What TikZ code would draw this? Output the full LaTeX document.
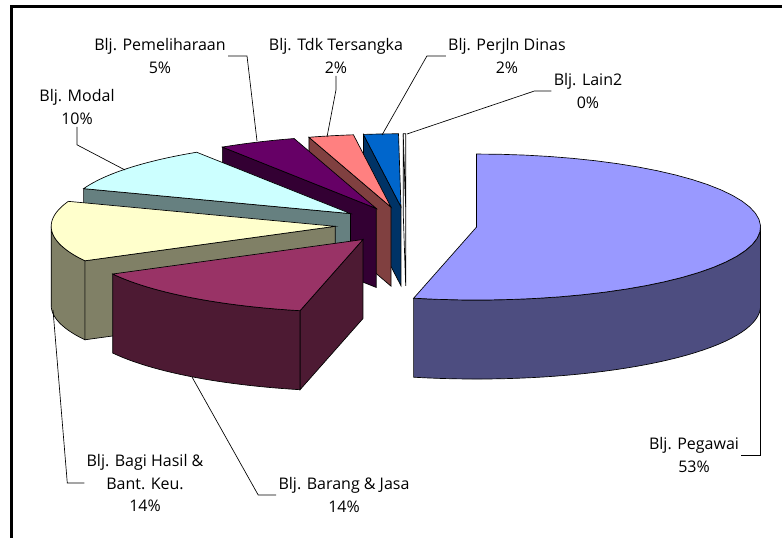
\documentclass[tikz,border=0pt]{standalone}
\usepackage{fontspec}
\setmainfont{Open Sans}
\definecolor{pegawai}{HTML}{9999FF}
\definecolor{pegawaiside}{HTML}{4D4D80}
\definecolor{barang}{HTML}{993366}
\definecolor{barangside}{HTML}{4D1A33}
\definecolor{bagihasil}{HTML}{FFFFCC}
\definecolor{bagihasilside}{HTML}{808066}
\definecolor{modal}{HTML}{CCFFFF}
\definecolor{modalside}{HTML}{668080}
\definecolor{pemeliharaan}{HTML}{660066}
\definecolor{pemeliharaanside}{HTML}{330033}
\definecolor{tersangka}{HTML}{FF8080}
\definecolor{tersangkaside}{HTML}{804040}
\definecolor{perjalanan}{HTML}{0066CC}
\definecolor{perjalananside}{HTML}{003366}
\begin{document}
\begin{tikzpicture}[x=0.75pt,y=-0.75pt,line width=0.5pt,
    lbl/.style={align=center,font=\fontsize{12}{17}\selectfont,inner sep=1.5pt}]
            \useasboundingbox (0,0) rectangle (782,538);
            \def\rx{284}
            \def\ry{73}
            \def\pieh{79}
            \def\cx{406}
            \def\cy{225}
            \def\expl{0.25}
            \def\slice#1#2#3#4{%
                \pgfmathsetmacro\midang{(#1+#2)/2}
                \coordinate (apex) at ({\cx+\expl*\rx*sin(\midang)},{\cy-\expl*\ry*cos(\midang)});
                \begin{scope}[shift={(apex)}]
                    \filldraw[fill=#4] (0,0) -- ({\rx*sin(#1)},{-\ry*cos(#1)}) -- ++(0,\pieh) -- (0,\pieh) -- cycle;
                    \pgfmathsetmacro\arcA{max(#1,90)}
                    \pgfmathsetmacro\arcB{min(#2,270)}
                    \ifdim\arcB pt>\arcA pt
                        \filldraw[fill=#4] plot[domain=\arcA:\arcB,samples=40] ({\rx*sin(\x)},{-\ry*cos(\x)})
                            -- plot[domain=\arcB:\arcA,samples=40] ({\rx*sin(\x)},{\pieh-\ry*cos(\x)}) -- cycle;
                    \fi
                    \filldraw[fill=#3] (0,0) -- plot[domain=#1:#2,samples=40] ({\rx*sin(\x)},{-\ry*cos(\x)}) -- cycle;
                \end{scope}}
            \draw[line width=2.25pt] (11,545) -- (11,7) -- (790,7);
            \slice{359.5}{360}{white}{white}
            \slice{352.4}{359.5}{perjalanan}{perjalananside}
            \slice{343.2}{352.4}{tersangka}{tersangkaside}
            \slice{327.2}{343.2}{pemeliharaan}{pemeliharaanside}
            \slice{290}{327.2}{modal}{modalside}
            \slice{241.8}{290}{bagihasil}{bagihasilside}
            \slice{192.8}{241.8}{barang}{barangside}
            \slice{0}{192.8}{pegawai}{pegawaiside}
            \coordinate (tipPegawai) at (760,307);
            \coordinate (tipBarang) at (192,377);
            \coordinate (tipBagi) at (53,310);
            \coordinate (tipModal) at (125,170);
            \coordinate (tipPem) at (257,141);
            \coordinate (tipTdk) at (327,137);
            \coordinate (tipPerjln) at (382,135);
            \coordinate (tipLain) at (407,134);
            \node[lbl] (lblPegawai) at (694,455) {Blj. Pegawai\\53\%};
            \node[lbl] (lblBarang) at (344,495) {Blj. Barang \& Jasa\\14\%};
            \node[lbl] (lblBagi) at (145,483) {Blj. Bagi Hasil \&\\Bant. Keu.\\14\%};
            \node[lbl] (lblModal) at (77,107) {Blj. Modal\\10\%};
            \node[lbl] (lblPem) at (160,56) {Blj. Pemeliharaan\\5\%};
            \node[lbl] (lblTdk) at (336,56) {Blj. Tdk Tersangka\\2\%};
            \node[lbl] (lblPerjln) at (507,56) {Blj. Perjln Dinas\\2\%};
            \node[lbl] (lblLain) at (588,91) {Blj. Lain2\\0\%};
            \draw (lblPegawai.east) -- (lblPegawai.east -| tipPegawai) -- (tipPegawai);
            \draw (lblBarang.west) -- ++(-18,0) -- (tipBarang);
            \draw (lblBagi.west) -- ++(-17,0) -- (tipBagi);
            \draw (lblModal.south) -- ++(0,18) -- (tipModal);
            \draw (lblPem.east) -- ++(19,0) -- (tipPem);
            \draw (lblTdk.south) -- ++(0,14) -- (tipTdk);
            \draw (lblPerjln.west) -- ++(-19,0) -- (tipPerjln);
            \draw (lblLain.west) -- ++(-17,0) -- (tipLain);
        \end{tikzpicture}
\end{document}
